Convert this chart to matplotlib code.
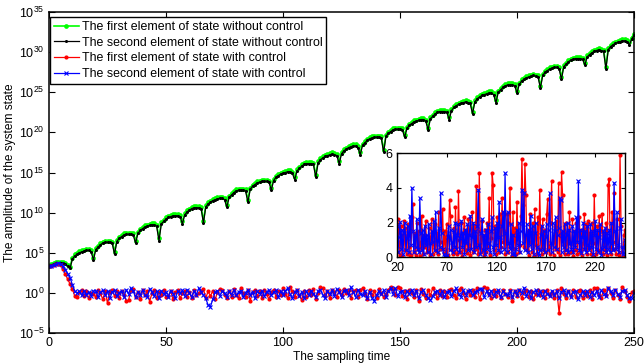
import numpy as np
import matplotlib
matplotlib.use("Agg")
import matplotlib.pyplot as plt
from matplotlib.ticker import FixedLocator, NullLocator

plt.rcParams['font.family'] = ['Liberation Sans', 'DejaVu Sans']
plt.rcParams['mathtext.default'] = 'regular'

# ---------------- data ----------------
steps = list(range(251))

# log10 amplitude, first element without control
green_log = [
    3.3, 3.55, 3.75, 3.85, 3.9, 3.9, 3.85, 3.7, 3.45, 3.25,
    4.4, 4.8, 5.0, 5.2, 5.3, 5.4, 5.5, 5.5, 5.3, 4.4,
    5.6, 5.9, 6.2, 6.4, 6.5, 6.5, 6.5, 6.4, 5.1, 6.6,
    7.0, 7.2, 7.4, 7.5, 7.5, 7.5, 7.4, 6.5, 7.6, 8.0,
    8.2, 8.4, 8.5, 8.6, 8.7, 8.7, 8.5, 6.8, 8.8, 9.1,
    9.4, 9.6, 9.7, 9.8, 9.8, 9.8, 9.7, 8.9, 9.9, 10.3,
    10.5, 10.7, 10.8, 10.8, 10.8, 10.7, 9.0, 10.9, 11.3, 11.5,
    11.7, 11.8, 11.9, 12.0, 12.0, 11.8, 11.0, 12.1, 12.4, 12.7,
    12.9, 13.0, 13.0, 13.0, 12.9, 11.6, 13.1, 13.5, 13.7, 13.9,
    14.0, 14.1, 14.1, 14.1, 14.0, 13.1, 14.2, 14.6, 14.8, 15.0,
    15.1, 15.2, 15.3, 15.3, 15.1, 14.4, 15.4, 15.7, 16.0, 16.2,
    16.3, 16.3, 16.3, 16.2, 14.7, 16.4, 16.8, 17.0, 17.2, 17.3,
    17.4, 17.5, 17.4, 17.3, 16.4, 17.5, 17.9, 18.1, 18.3, 18.4,
    18.5, 18.5, 18.3, 17.5, 18.6, 18.9, 19.2, 19.4, 19.5, 19.6,
    19.6, 19.6, 19.5, 17.8, 19.7, 20.1, 20.3, 20.5, 20.6, 20.6,
    20.6, 20.5, 19.7, 20.7, 21.1, 21.3, 21.5, 21.6, 21.7, 21.8,
    21.8, 21.6, 20.6, 21.9, 22.2, 22.5, 22.7, 22.8, 22.8, 22.8,
    22.7, 21.9, 22.9, 23.3, 23.5, 23.7, 23.8, 23.9, 24.0, 23.9,
    23.8, 22.6, 24.0, 24.4, 24.6, 24.8, 24.9, 25.0, 25.1, 25.1,
    24.9, 24.0, 25.2, 25.5, 25.8, 26.0, 26.1, 26.1, 26.1, 26.0,
    25.2, 26.2, 26.6, 26.8, 27.0, 27.1, 27.2, 27.3, 27.2, 27.1,
    25.8, 27.3, 27.7, 27.9, 28.1, 28.2, 28.3, 28.3, 28.1, 26.9,
    28.4, 28.7, 29.0, 29.2, 29.3, 29.4, 29.4, 29.4, 29.3, 28.7,
    29.6, 29.9, 30.1, 30.3, 30.4, 30.5, 30.4, 30.3, 28.2, 30.5,
    30.9, 31.1, 31.3, 31.4, 31.5, 31.6, 31.6, 31.5, 31.2, 31.8,
    32.3,
]

# log10 amplitude, second element without control
black_log = [
    3.3, 3.45, 3.6, 3.7, 3.75, 3.75, 3.7, 3.55, 3.3, 3.05,
    4.2, 4.6, 4.8, 5.0, 5.1, 5.2, 5.3, 5.3, 5.1, 4.1,
    5.4, 5.7, 6.0, 6.2, 6.3, 6.3, 6.3, 6.2, 4.8, 6.4,
    6.8, 7.0, 7.2, 7.3, 7.3, 7.3, 7.2, 6.2, 7.4, 7.8,
    8.0, 8.2, 8.3, 8.4, 8.5, 8.5, 8.3, 6.5, 8.6, 8.9,
    9.2, 9.4, 9.5, 9.6, 9.6, 9.6, 9.5, 8.6, 9.7, 10.1,
    10.3, 10.5, 10.6, 10.6, 10.6, 10.5, 8.7, 10.7, 11.1, 11.3,
    11.5, 11.6, 11.7, 11.8, 11.8, 11.6, 10.7, 11.9, 12.2, 12.5,
    12.7, 12.8, 12.8, 12.8, 12.7, 11.3, 12.9, 13.3, 13.5, 13.7,
    13.8, 13.9, 13.9, 13.9, 13.8, 12.8, 14.0, 14.4, 14.6, 14.8,
    14.9, 15.0, 15.1, 15.1, 14.9, 14.1, 15.2, 15.5, 15.8, 16.0,
    16.1, 16.1, 16.1, 16.0, 14.4, 16.2, 16.6, 16.8, 17.0, 17.1,
    17.2, 17.3, 17.2, 17.1, 16.1, 17.3, 17.7, 17.9, 18.1, 18.2,
    18.3, 18.3, 18.1, 17.2, 18.4, 18.7, 19.0, 19.2, 19.3, 19.4,
    19.4, 19.4, 19.3, 17.5, 19.5, 19.9, 20.1, 20.3, 20.4, 20.4,
    20.4, 20.3, 19.4, 20.5, 20.9, 21.1, 21.3, 21.4, 21.5, 21.6,
    21.6, 21.4, 20.3, 21.7, 22.0, 22.3, 22.5, 22.6, 22.6, 22.6,
    22.5, 21.6, 22.7, 23.1, 23.3, 23.5, 23.6, 23.7, 23.8, 23.7,
    23.6, 22.3, 23.8, 24.2, 24.4, 24.6, 24.7, 24.8, 24.9, 24.9,
    24.7, 23.7, 25.0, 25.3, 25.6, 25.8, 25.9, 25.9, 25.9, 25.8,
    24.9, 26.0, 26.4, 26.6, 26.8, 26.9, 27.0, 27.1, 27.0, 26.9,
    25.5, 27.1, 27.5, 27.7, 27.9, 28.0, 28.1, 28.1, 27.9, 26.6,
    28.2, 28.5, 28.8, 29.0, 29.1, 29.2, 29.2, 29.2, 29.1, 28.4,
    29.4, 29.7, 29.9, 30.1, 30.2, 30.3, 30.2, 30.1, 27.9, 30.3,
    30.7, 30.9, 31.1, 31.2, 31.3, 31.4, 31.4, 31.3, 30.9, 31.6,
    32.1,
]

# first element with control (linear amplitude)
red_ctrl = [
    2000, 2240, 2820, 3550, 3980, 3160, 1000, 200, 50, 12.6,
    3.2, 0.4, 0.3, 1.2, 2.0, 0.4, 1.6, 0.2, 1.1, 0.7,
    0.3, 2.2, 0.9, 0.15, 1.8, 0.05, 1.3, 2.1, 0.4, 1.7,
    0.2, 1.9, 0.6, 0.1, 0.12, 2.3, 3.1, 0.3, 1.4, 0.15,
    2.0, 0.5, 1.5, 0.08, 0.9, 2.4, 0.2, 1.3, 0.6, 2.1,
    0.3, 0.4, 1.7, 0.15, 1.2, 2.2, 0.2, 0.9, 1.9, 0.35,
    1.4, 0.2, 2.6, 0.5, 0.9, 1.6, 2.8, 0.25, 1.5, 0.4,
    1.9, 0.15, 1.2, 3.3, 2.4, 0.5, 0.2, 1.7, 0.3, 2.9,
    0.6, 0.2, 3.8, 1.0, 0.3, 2.0, 0.1, 1.4, 2.3, 0.4,
    1.6, 0.25, 2.2, 0.7, 0.15, 1.3, 2.6, 0.3, 1.8, 0.5,
    4.1, 0.8, 0.2, 4.85, 1.5, 0.3, 2.1, 0.5, 0.12, 1.6,
    0.3, 2.0, 0.6, 3.4, 0.15, 1.1, 4.85, 4.2, 0.4, 1.8,
    0.2, 2.3, 1.4, 0.3, 2.5, 0.6, 3.4, 0.9, 2.6, 0.2,
    1.5, 2.5, 0.3, 2.0, 4.0, 0.8, 0.15, 2.6, 0.5, 1.7,
    0.2, 3.2, 1.1, 0.3, 0.7, 2.4, 5.7, 3.0, 0.6, 5.4,
    3.6, 0.4, 1.5, 0.15, 2.5, 0.9, 0.3, 2.0, 0.1, 2.8,
    0.7, 0.2, 2.3, 0.5, 3.9, 1.1, 0.2, 2.2, 0.4, 1.6,
    0.3, 2.5, 3.35, 0.6, 0.2, 2.0, 4.4, 0.9, 0.15, 1.8,
    0.5, 2.1, 0.3, 4.3, 0.16, 1.4, 4.9, 3.6, 0.7, 0.2,
    2.0, 0.4, 1.5, 0.2, 2.6, 0.8, 0.3, 2.2, 0.1, 1.5,
    0.4, 2.0, 0.2, 1.3, 2.3, 0.3, 1.6, 0.15, 0.8, 2.5,
    0.5, 1.9, 0.2, 2.1, 0.6, 1.4, 0.2, 2.0, 0.003, 3.6,
    0.8, 0.2, 1.8, 0.4, 2.4, 0.3, 1.6, 2.5, 0.2, 1.4,
    0.4, 2.0, 0.16, 4.2, 4.5, 0.6, 0.2, 2.6, 0.5, 3.7,
    0.9, 0.2, 2.2, 0.6, 0.15, 5.9, 1.8, 0.3, 0.1, 1.3,
    1.6,
]

# second element with control (linear amplitude)
blue_ctrl = [
    2000, 2240, 2820, 3980, 5010, 3980, 2000, 790, 250, 80,
    10, 1.6, 0.9, 1.5, 0.5, 1.8, 0.6, 1.3, 0.4, 1.7,
    1.8, 0.3, 1.2, 2.05, 0.5, 1.6, 0.2, 1.4, 2.0, 0.4,
    1.1, 1.8, 0.3, 2.4, 0.7, 4.0, 1.5, 0.3, 1.3, 0.6,
    2.2, 0.5, 0.3, 3.4, 1.4, 0.4, 1.6, 0.2, 1.8, 0.7,
    1.3, 0.3, 1.9, 0.8, 0.2, 1.5, 0.9, 2.1, 0.4, 2.6,
    1.0, 0.3, 1.7, 0.6, 3.7, 1.4, 0.5, 0.2, 0.03, 0.02,
    0.15, 1.2, 1.8, 0.4, 1.6, 0.9, 0.3, 1.5, 0.6, 2.0,
    0.5, 1.3, 1.9, 0.3, 1.1, 2.1, 0.6, 1.4, 0.2, 1.6,
    0.8, 1.9, 0.4, 1.3, 2.4, 0.5, 1.2, 2.0, 0.3, 1.5,
    0.6, 1.8, 3.9, 0.7, 0.2, 1.4, 2.2, 0.4, 1.3, 0.2,
    1.6, 0.5, 1.9, 0.8, 0.3, 1.5, 2.3, 0.6, 0.2, 1.7,
    0.7, 2.0, 0.4, 3.2, 1.2, 0.3, 1.8, 2.6, 0.5, 4.85,
    1.4, 0.3, 2.6, 0.8, 0.5, 1.9, 0.2, 1.3, 0.25, 0.1,
    0.5, 1.6, 0.7, 2.0, 0.3, 1.5, 3.9, 0.8, 3.7, 0.4,
    1.3, 1.9, 0.3, 1.6, 0.7, 2.4, 0.5, 1.8, 0.2, 1.4,
    2.0, 0.6, 0.25, 0.12, 0.4, 1.3, 1.8, 0.5, 1.5, 0.3,
    1.2, 1.9, 0.4, 1.6, 3.7, 0.8, 0.3, 2.0, 0.6, 1.5,
    2.3, 0.5, 1.3, 1.7, 3.4, 3.3, 0.3, 1.5, 0.6, 1.9,
    0.4, 1.3, 2.0, 0.3, 1.6, 0.8, 0.5, 1.8, 0.3, 1.5,
    0.6, 2.3, 0.9, 4.4, 0.4, 1.6, 0.25, 1.2, 2.0, 0.5,
    1.5, 0.3, 1.8, 0.7, 0.4, 1.9, 0.6, 1.5, 0.2, 1.3,
    2.1, 0.5, 1.6, 0.3, 1.2, 1.9, 0.15, 0.5, 1.5, 0.6,
    1.7, 0.3, 1.4, 0.5, 1.6, 0.3, 2.0, 0.8, 0.4, 4.3,
    1.5, 0.5, 2.6, 0.7, 0.3, 1.7, 2.2, 0.6, 0.2, 0.25,
    1.0,
]

legend_labels = [
    "The first element of state without control",
    "The second element of state without control",
    "The first element of state with control",
    "The second element of state with control",
]
x_ticks = [0, 50, 100, 150, 200, 250]
y_exponents = [-5, 0, 5, 10, 15, 20, 25, 30, 35]
inset_xticks = [20, 70, 120, 170, 220]
inset_yticks = [0, 2, 4, 6]
inset_start = 20

# ---------------- figure ----------------
W, H = 644, 364
fig = plt.figure(figsize=(W / 100, H / 100), dpi=100)
fig.patch.set_facecolor('white')

ax = fig.add_axes([49 / W, 1 - 333 / H, 585 / W, 321 / H])

t = np.array(steps)
g = 10 ** np.array(green_log)
k = 10 ** np.array(black_log)
r = np.array(red_ctrl, dtype=float)
b = np.array(blue_ctrl, dtype=float)

lw = 0.9
ax.plot(t, g, '-o', color=(0, 1, 0), lw=1.2, ms=3.4, mew=0, label=legend_labels[0])
ax.plot(t, k, '-o', color='black', lw=lw, ms=2.2, mew=0, label=legend_labels[1])
ax.plot(t, r, '-o', color='red', lw=lw, ms=3.0, mew=0, label=legend_labels[2])
ax.plot(t, b, '-x', color='blue', lw=lw, ms=2.4, mew=0.8, label=legend_labels[3])

ax.set_yscale('log')
ax.set_xlim(0, 250)
ax.set_ylim(1e-5, 1e35)
ax.set_xticks(x_ticks)
ax.yaxis.set_major_locator(FixedLocator([10.0 ** e for e in y_exponents]))
ax.yaxis.set_minor_locator(NullLocator())
ax.set_yticklabels([r'$10^{%d}$' % e for e in y_exponents])

ax.tick_params(axis='both', which='major', direction='in', length=4, width=0.8,
               top=True, right=True, labelsize=9, pad=3, colors='black')
for s in ax.spines.values():
    s.set_linewidth(1.1)
    s.set_color('black')

ax.set_xlabel("The sampling time", fontsize=8.6, labelpad=1)
ax.set_ylabel("The amplitude of the system state", fontsize=8.6, labelpad=2)

leg = ax.legend(loc='upper left', bbox_to_anchor=(0.002, 0.984), borderaxespad=0,
                fontsize=8.9, fancybox=False, frameon=True, handlelength=2.0,
                handletextpad=0.25, labelspacing=0.3, borderpad=0.3,
                markerscale=1.0)
leg.get_frame().set_edgecolor('black')
leg.get_frame().set_linewidth(1.0)
leg.get_frame().set_alpha(1)

# ---------------- inset ----------------
axi = fig.add_axes([397 / W, 1 - 257.3 / H, 228 / W, 104 / H])
ti = t[inset_start:]
axi.plot(ti, r[inset_start:], '-o', color='red', lw=lw, ms=3.0, mew=0)
axi.plot(ti, b[inset_start:], '-x', color='blue', lw=lw, ms=2.4, mew=0.8)
axi.set_xlim(20, 250)
axi.set_ylim(0, 6)
axi.set_xticks(inset_xticks)
axi.set_yticks(inset_yticks)
axi.tick_params(axis='both', direction='in', length=3, width=0.8, top=True,
                right=True, labelsize=9, pad=2)
axi.tick_params(axis='x', pad=3.5)
axi.tick_params(axis='y', pad=3)
for s in axi.spines.values():
    s.set_linewidth(1.0)
    s.set_color('black')

fig.savefig("out.png", dpi=100, facecolor='white')
